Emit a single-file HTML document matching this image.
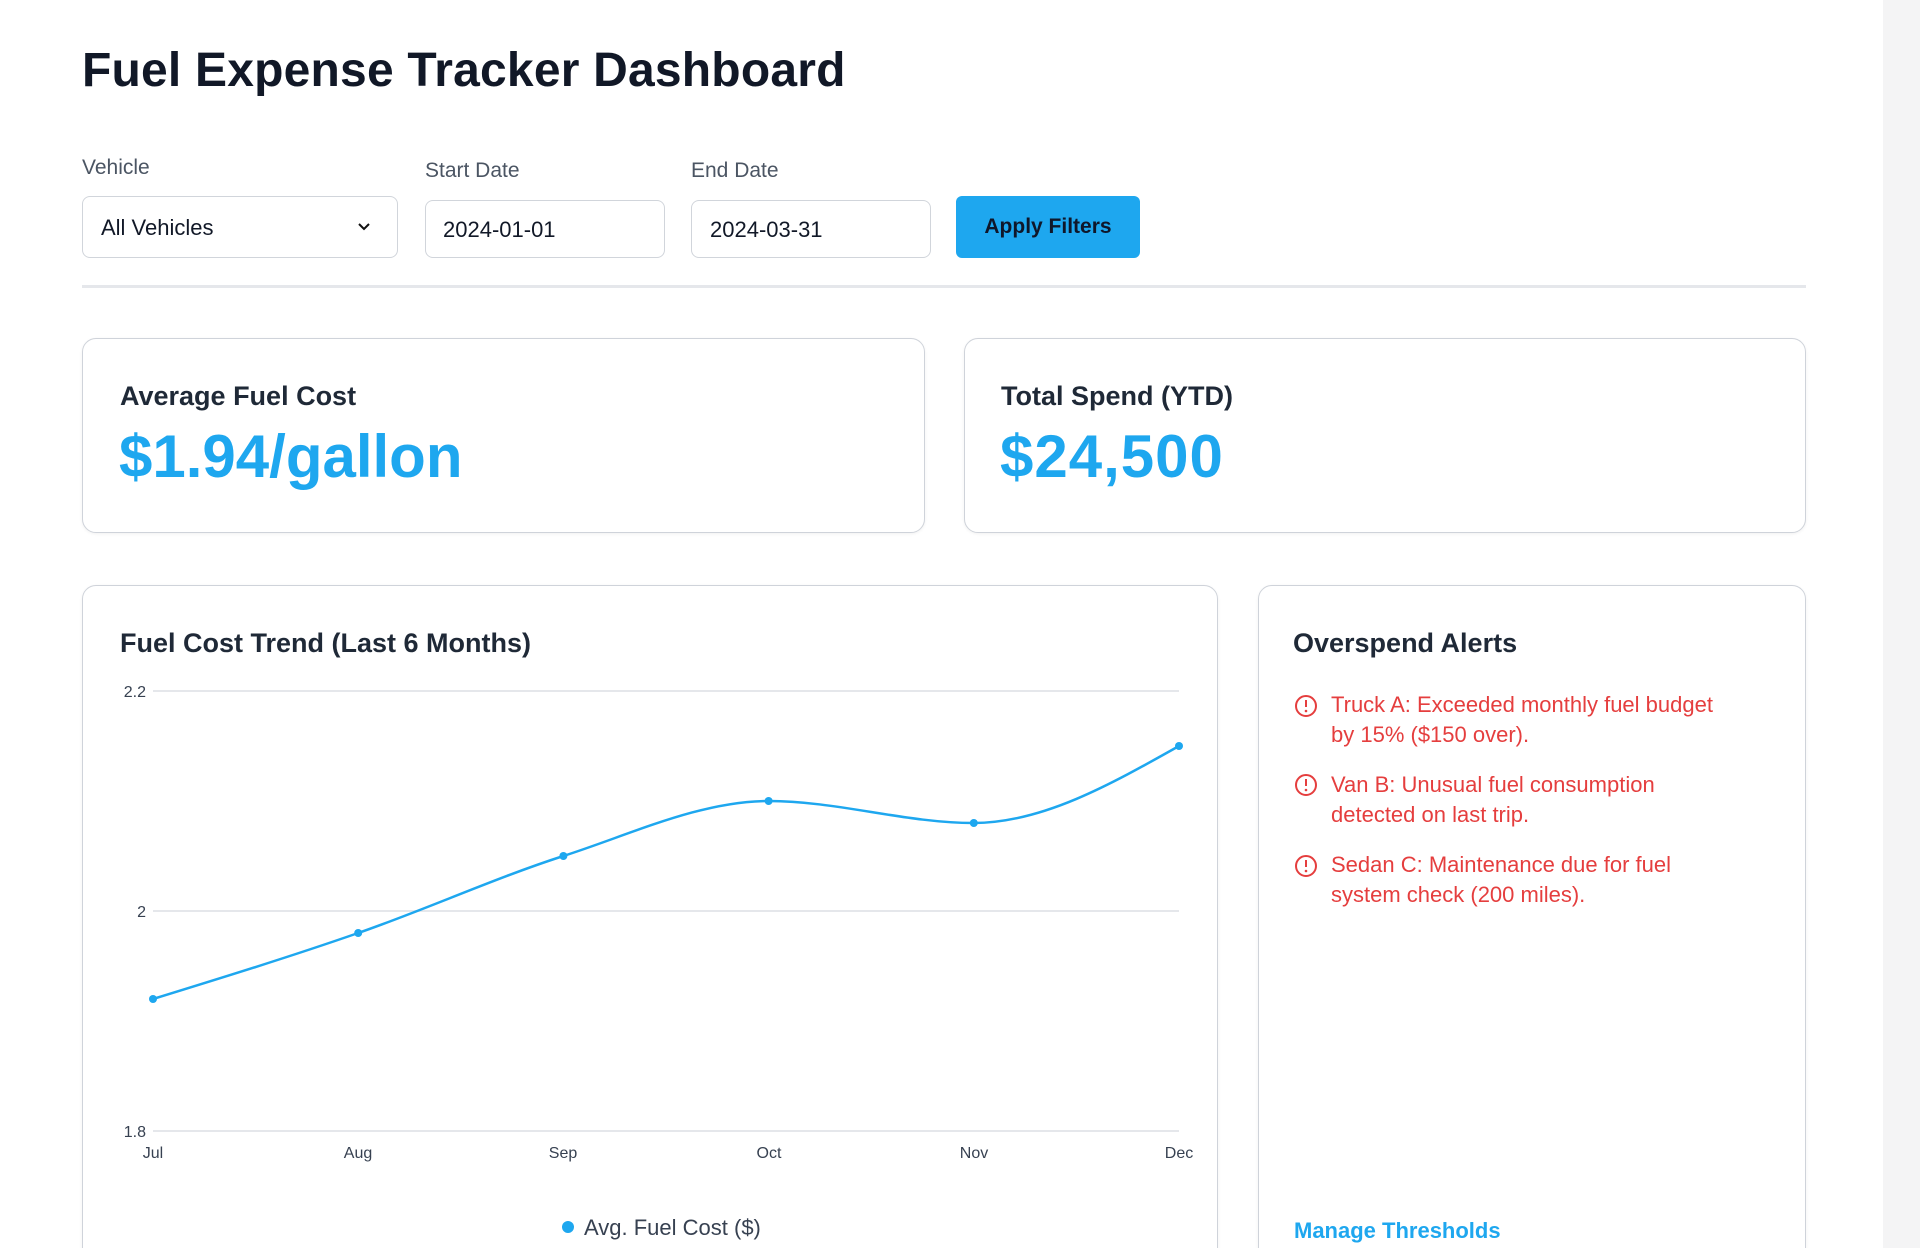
<!DOCTYPE html>
<html style="overflow:hidden;width:1920px;height:1248px"><head><meta charset="utf-8">
<style>
*{box-sizing:border-box;margin:0;padding:0}
body{width:1920px;height:1248px;overflow:hidden;background:#f4f4f5;font-family:"Liberation Sans",sans-serif;color:#111827;position:relative}
.page{position:absolute;left:0;top:0;width:1883px;height:1248px;background:#fff;overflow:hidden}
.a{position:absolute;white-space:nowrap}
.box{position:absolute;border:1.5px solid #d1d5db;border-radius:8px;background:#fff}
.card{position:absolute;border:1.5px solid #cfd3da;border-radius:14px;background:#fff;box-shadow:0 1px 3px rgba(0,0,0,0.06)}
.lbl{font-size:21px;color:#4b5563}
.inp{font-size:22px;color:#111827}
.ct{font-size:27px;font-weight:bold;color:#1f2937}
.big{font-size:60px;font-weight:bold;color:#1ea7ef}
.al{font-size:22px;color:#e53e3e;line-height:30px}
</style></head><body>
<div class="page">
<div class="a" style="left:82px;top:43px;font-size:48px;font-weight:bold;color:#111827;letter-spacing:0.2px">Fuel Expense Tracker Dashboard</div>

<div class="a lbl" style="left:82px;top:156px">Vehicle</div>
<div class="a lbl" style="left:425px;top:159px">Start Date</div>
<div class="a lbl" style="left:691px;top:159px">End Date</div>

<div class="box" style="left:82px;top:196px;width:316px;height:62px"></div>
<div class="a inp" style="left:101px;top:215px">All Vehicles</div>
<svg class="a" style="left:356px;top:220px" width="16" height="14" viewBox="0 0 16 14"><path d="M3 4 L8 9 L13 4" fill="none" stroke="#111" stroke-width="2"/></svg>

<div class="box" style="left:425px;top:200px;width:240px;height:58px"></div>
<div class="a inp" style="left:443px;top:217px">2024-01-01</div>
<div class="box" style="left:691px;top:200px;width:240px;height:58px"></div>
<div class="a inp" style="left:710px;top:217px">2024-03-31</div>

<div class="a" style="left:956px;top:196px;width:184px;height:62px;background:#1ea7ef;border-radius:6px;color:#0f172a;font-size:21px;font-weight:bold;text-align:center;line-height:62px">Apply Filters</div>

<div class="a" style="left:82px;top:285px;width:1724px;height:3px;background:#e5e7eb"></div>

<div class="card" style="left:82px;top:338px;width:843px;height:195px"></div>
<div class="a ct" style="left:120px;top:381px">Average Fuel Cost</div>
<div class="a big" style="left:119px;top:422px">$1.94/gallon</div>
<div class="card" style="left:964px;top:338px;width:842px;height:195px"></div>
<div class="a ct" style="left:1001px;top:381px">Total Spend (YTD)</div>
<div class="a big" style="left:1000px;top:422px;letter-spacing:1px">$24,500</div>

<div class="card" style="left:82px;top:585px;width:1136px;height:700px"></div>
<div class="a ct" style="left:120px;top:628px">Fuel Cost Trend (Last 6 Months)</div>
<svg class="a" style="left:0;top:0" width="1300" height="1248">
<g stroke="#e5e7eb" stroke-width="2">
<line x1="153" y1="691" x2="1179" y2="691"/>
<line x1="153" y1="911" x2="1179" y2="911"/>
<line x1="153" y1="1131" x2="1179" y2="1131"/>
</g>
<g font-family="Liberation Sans" font-size="16" fill="#374151">
<text x="146" y="697" text-anchor="end">2.2</text>
<text x="146" y="917" text-anchor="end">2</text>
<text x="146" y="1137" text-anchor="end">1.8</text>
<g text-anchor="middle">
<text x="153" y="1158">Jul</text><text x="358" y="1158">Aug</text><text x="563" y="1158">Sep</text>
<text x="769" y="1158">Oct</text><text x="974" y="1158">Nov</text><text x="1179" y="1158">Dec</text>
</g></g>
<path d="M153 999 C221.4 977.9 289.8 956.8 358.2 933 C426.6 909.2 495 878 563.4 856 C631.8 834 700.2 801 768.6 801 C837 801 905.4 823 973.8 823 C1042.2 823 1110.6 784.5 1179 746" fill="none" stroke="#1ea7ef" stroke-width="2.5"/>
<g fill="#1ea7ef">
<circle cx="153" cy="999" r="4"/><circle cx="358.2" cy="933" r="4"/><circle cx="563.4" cy="856" r="4"/>
<circle cx="768.6" cy="801" r="4"/><circle cx="973.8" cy="823" r="4"/><circle cx="1179" cy="746" r="4"/>
<circle cx="568" cy="1227" r="6"/>
</g>
<text x="584" y="1235" font-family="Liberation Sans" font-size="22" fill="#374151">Avg. Fuel Cost ($)</text>
</svg>

<div class="card" style="left:1258px;top:585px;width:548px;height:700px"></div>
<div class="a ct" style="left:1293px;top:628px">Overspend Alerts</div>
<svg class="a" style="left:1294px;top:694px" width="24" height="200" viewBox="0 0 24 200">
<g fill="none" stroke="#e53e3e" stroke-width="2">
<circle cx="12" cy="12" r="10"/><circle cx="12" cy="91" r="10"/><circle cx="12" cy="172" r="10"/>
</g>
<g stroke="#e53e3e" stroke-width="2"><line x1="12" y1="6" x2="12" y2="13"/><line x1="12" y1="85" x2="12" y2="92"/><line x1="12" y1="166" x2="12" y2="173"/></g>
<g fill="#e53e3e"><circle cx="12" cy="17" r="1.3"/><circle cx="12" cy="96" r="1.3"/><circle cx="12" cy="177" r="1.3"/></g>
</svg>
<div class="a al" style="left:1331px;top:690px">Truck A: Exceeded monthly fuel budget<br>by 15% ($150 over).</div>
<div class="a al" style="left:1331px;top:770px">Van B: Unusual fuel consumption<br>detected on last trip.</div>
<div class="a al" style="left:1331px;top:850px">Sedan C: Maintenance due for fuel<br>system check (200 miles).</div>
<div class="a" style="left:1294px;top:1218px;font-size:22px;font-weight:bold;color:#1ea7ef">Manage Thresholds</div>
</div>
</body></html>
